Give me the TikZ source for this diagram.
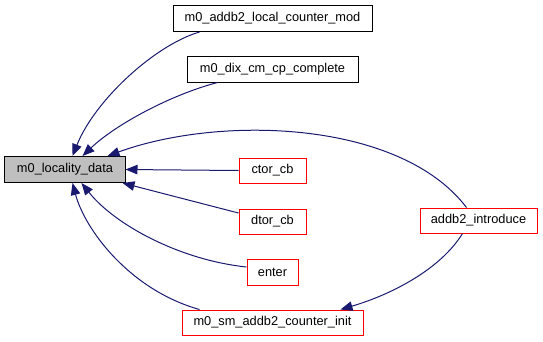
\documentclass[tikz,border=0pt]{standalone}
\usepackage{fontspec}
\setmainfont{Liberation Sans}
\usetikzlibrary{arrows.meta}
\definecolor{edgeblue}{RGB}{25,25,112}
\definecolor{boxgray}{RGB}{191,191,191}
\begin{document}
\begin{tikzpicture}[x=1bp,y=-1bp,
  fn/.style={draw=black,line width=1bp,fill=white,inner sep=0pt,minimum height=26bp,
    font=\fontsize{12.8bp}{14bp}\selectfont},
  cur/.style={fn,fill=boxgray},
  ext/.style={fn,draw=red},
  call/.style={draw=edgeblue,line width=1bp,-{Triangle[length=12bp,width=9.5bp]}}]
\useasboundingbox (0,0) rectangle (543,341);
% nodes
\node[cur,minimum width=120bp] (loc) at (65,169.5) {m0\_locality\_data};
\node[fn,minimum width=199bp] (lcm) at (272.5,18.5) {m0\_addb2\_local\_counter\_mod};
\node[fn,minimum width=171bp] (dix) at (272.5,69) {m0\_dix\_cm\_cp\_complete};
\node[ext,minimum width=67bp,minimum height=25bp] (ctor) at (272.5,170.5) {ctor\_cb};
\node[ext,minimum width=67bp,minimum height=25bp] (dtor) at (272.5,221.5) {dtor\_cb};
\node[ext,minimum width=51bp] (enter) at (272.5,272) {enter};
\node[ext,minimum width=181bp,minimum height=25bp] (sm) at (272.5,322.5) {m0\_sm\_addb2\_counter\_init};
\node[ext,minimum width=117bp,minimum height=25bp] (intro) at (478.5,220.5) {addb2\_introduce};
% call edges
\draw[call] ([xshift=27bp]lcm.south west) .. controls (155,45) and (95,100) .. ([xshift=68bp]loc.north west);
\draw[call] ([xshift=31bp]dix.south west) .. controls (170,95) and (115,125) .. ([xshift=78bp]loc.north west);
\draw[call] ([xshift=47bp]intro.north west) .. controls (400,120) and (220,115) .. ([xshift=-18bp]loc.north east);
\draw[call] (ctor.west) -- (loc.east);
\draw[call] ([yshift=8.5bp]dtor.west) -- ([xshift=-3bp]loc.south east);
\draw[call] ([yshift=5bp]enter.west) .. controls (180,260) and (115,225) .. ([xshift=77bp]loc.south west);
\draw[call] ([xshift=18bp]sm.north west) .. controls (130,290) and (85,230) .. ([xshift=68bp]loc.south west);
\draw[call] ([xshift=43bp]intro.south west) .. controls (440,270) and (390,295) .. ([xshift=-23bp]sm.north east);
\end{tikzpicture}
\end{document}
